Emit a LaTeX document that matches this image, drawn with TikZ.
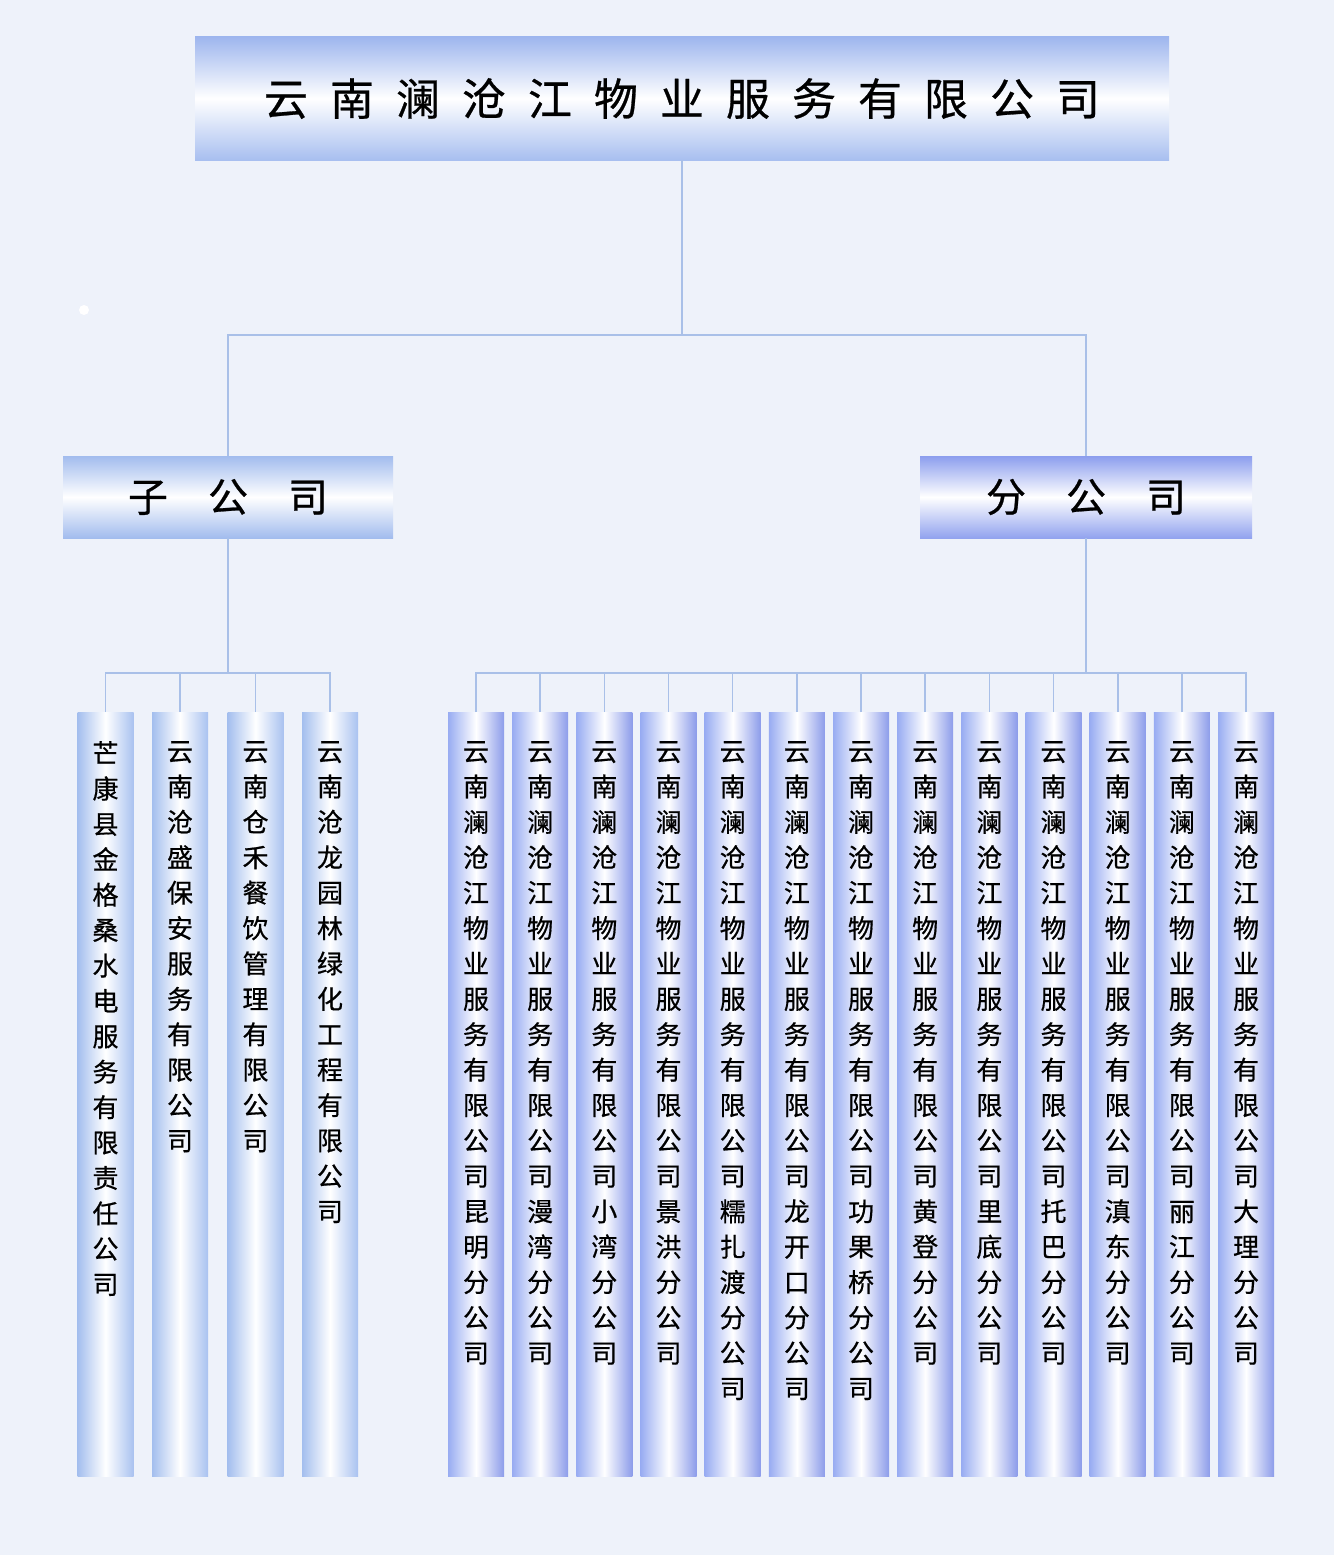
\documentclass[tikz,border=0pt]{standalone}
\usepackage{fontspec}
\newfontfamily\cjk[FakeBold=0.6]{Noto Sans CJK SC}
\definecolor{bgc}{HTML}{EEF2FA}
\definecolor{linec}{HTML}{A9C0E8}
\definecolor{titletop}{HTML}{9EB6EE}
\definecolor{titlebot}{HTML}{A8BFF0}
\definecolor{zic}{HTML}{A2BCEE}
\definecolor{fenc}{HTML}{8C9EEE}
\definecolor{lcolL}{HTML}{A3BEEE}
\definecolor{lcolR}{HTML}{A9C2F0}
\definecolor{rcolL}{HTML}{98ACF2}
\definecolor{rcolR}{HTML}{8C9CEA}
\def\vst#1{#1\vstB}
\def\vstB#1{\ifx#1\relax\else\\#1\expandafter\vstB\fi}
\tikzset{
  conn/.style={draw=linec, line width=1.6pt},
  titlebox/.style={rectangle, inner sep=0pt, minimum width=974pt, minimum height=123pt,
    top color=titletop, bottom color=titlebot, middle color=white,
    font=\cjk\fontsize{44}{50}\selectfont, text=black},
  zibox/.style={rectangle, inner sep=0pt, minimum width=330pt, minimum height=82pt,
    top color=zic, bottom color=zic, middle color=white,
    font=\cjk\fontsize{40}{46}\selectfont, text=black},
  fenbox/.style={rectangle, inner sep=0pt, minimum width=332pt, minimum height=82pt,
    top color=fenc, bottom color=fenc!95!white, middle color=white,
    font=\cjk\fontsize{40}{46}\selectfont, text=black},
  lcol/.style={rectangle, anchor=north, inner sep=0pt, minimum width=56pt, minimum height=764pt,
    left color=lcolL, right color=lcolR, middle color=white},
  rcol/.style={rectangle, anchor=north, inner sep=0pt, minimum width=56pt, minimum height=764pt,
    left color=rcolL, right color=rcolR, middle color=white},
  coltext/.style={anchor=north, inner sep=0pt, align=center, text=black,
    font=\cjk\fontsize{26}{35.4}\selectfont},
}
\begin{document}
\begin{tikzpicture}[x=1pt, y=-1pt]
\useasboundingbox (0,0) rectangle (1334,1555);
\fill[bgc] (0,0) rectangle (1334,1555);
\node[circle, fill=white, inner sep=0pt, minimum size=10pt] (dot) at (84,310) {};

% top box
\node[titlebox] (top) at (682,98.5) {云\hspace{22pt}南\hspace{22pt}澜\hspace{22pt}沧\hspace{22pt}江\hspace{22pt}物\hspace{22pt}业\hspace{22pt}服\hspace{22pt}务\hspace{22pt}有\hspace{22pt}限\hspace{22pt}公\hspace{22pt}司};

% second level
\node[zibox] (zi) at (228,497) {子\hspace{40pt}公\hspace{40pt}司};
\node[fenbox] (fen) at (1086,497) {分\hspace{40pt}公\hspace{40pt}司};

% left columns
\node[lcol] (l1) at (105.5,712) {};
\node[lcol] (l2) at (180,712) {};
\node[lcol] (l3) at (255.5,712) {};
\node[lcol] (l4) at (330,712) {};
\node[coltext] (lt1) at (105.5,741) {\vst 芒康县金格桑水电服务有限责任公司\relax};
\node[coltext] (lt2) at (180,741) {\vst 云南沧盛保安服务有限公司\relax};
\node[coltext] (lt3) at (255.5,741) {\vst 云南仓禾餐饮管理有限公司\relax};
\node[coltext] (lt4) at (330,741) {\vst 云南沧龙园林绿化工程有限公司\relax};

% right columns
\foreach \i/\nm in {0/昆明,1/漫湾,2/小湾,3/景洪,4/糯扎渡,5/龙开口,6/功果桥,7/黄登,8/里底,9/托巴,10/滇东,11/丽江,12/大理}{
  \pgfmathsetmacro{\cx}{476+64.17*\i}
  \node[rcol] (r\i) at (\cx,712) {};
  \edef\coltxt{\noexpand\vst 云南澜沧江物业服务有限公司\nm 分公司\noexpand\relax}
  \node[coltext] (rt\i) at (\cx,741) {\coltxt};
}

% connectors
\coordinate (j1) at (682,335);
\coordinate (j2) at (228,673);
\coordinate (j3) at (1086,673);
\draw[conn] (top.south) -- (j1);
\draw[conn] (zi.north) |- (j1);
\draw[conn] (fen.north) |- (j1);
\draw[conn] (zi.south) -- (j2);
\draw[conn] (fen.south) -- (j3);
\foreach \n in {l1,l2,l3,l4}{ \draw[conn] (\n.north) |- (j2); }
\foreach \i in {0,...,12}{ \draw[conn] (r\i.north) |- (j3); }
\end{tikzpicture}
\end{document}
